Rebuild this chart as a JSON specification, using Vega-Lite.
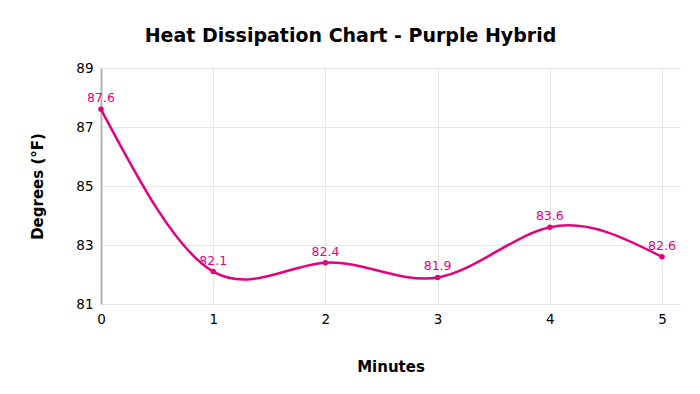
{
  "$schema": "https://vega.github.io/schema/vega-lite/v6.json",
  "width": 579,
  "height": 236,
  "autosize": {"type": "none"},
  "padding": {"left": 101, "top": 68, "right": 20, "bottom": 90},
  "background": "white",
  "title": {
    "text": "Heat Dissipation Chart - Purple Hybrid",
    "font": "DejaVu Sans",
    "fontSize": 19,
    "fontWeight": "bold",
    "color": "#000000",
    "anchor": "middle",
    "dx": -40,
    "offset": 15
  },
  "data": {
    "values": [
      {"minute": 0, "temp": 87.6},
      {"minute": 1, "temp": 82.1},
      {"minute": 2, "temp": 82.4},
      {"minute": 3, "temp": 81.9},
      {"minute": 4, "temp": 83.6},
      {"minute": 5, "temp": 82.6}
    ]
  },
  "config": {
    "view": {"stroke": null},
    "axis": {
      "labelFont": "DejaVu Sans",
      "labelFontSize": 13.5,
      "labelColor": "#000000",
      "titleFont": "DejaVu Sans",
      "titleFontSize": 15,
      "titleFontWeight": "bold",
      "titleColor": "#000000",
      "gridColor": "#e6e6e6",
      "tickSize": 0
    }
  },
  "encoding": {
    "x": {
      "field": "minute",
      "type": "quantitative",
      "scale": {"domain": [0, 5.16], "nice": false, "zero": false},
      "axis": {
        "values": [0, 1, 2, 3, 4, 5],
        "title": "Minutes",
        "titlePadding": 34,
        "labelPadding": 8,
        "domain": true,
        "domainColor": "#e6e6e6",
        "labelFlush": false
      }
    },
    "y": {
      "field": "temp",
      "type": "quantitative",
      "scale": {"domain": [81, 89], "nice": false, "zero": false},
      "axis": {
        "values": [81, 83, 85, 87, 89],
        "title": "Degrees (°F)",
        "titlePadding": 30,
        "labelPadding": 8,
        "domainColor": "#b3b3b3",
        "domainWidth": 2
      }
    }
  },
  "layer": [
    {
      "mark": {"type": "line", "color": "#e6007e", "strokeWidth": 2.5, "interpolate": "natural"}
    },
    {
      "mark": {"type": "circle", "color": "#e6007e", "size": 30, "opacity": 1}
    },
    {
      "mark": {"type": "text", "color": "#e6007e", "font": "DejaVu Sans", "fontSize": 12.5, "dy": -11},
      "encoding": {"text": {"field": "temp", "type": "quantitative", "format": ".1f"}}
    }
  ]
}
